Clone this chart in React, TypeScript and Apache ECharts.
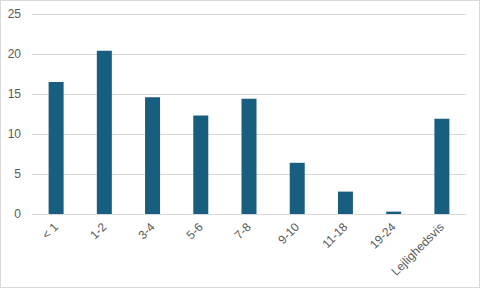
import React, { useEffect, useRef } from "react";
import * as echarts from "echarts";

const categories = ["< 1", "1-2", "3-4", "5-6", "7-8", "9-10", "11-18", "19-24", "Lejlighedsvis"];
const values = [16.5, 20.4, 14.6, 12.3, 14.4, 6.4, 2.8, 0.3, 11.9];
const yTicks = { min: 0, max: 25, interval: 5 };

export default function App() {
  const ref = useRef<HTMLDivElement>(null);
  useEffect(() => {
    document.body.style.margin = "0";
    const chart = echarts.init(ref.current!, null, { renderer: "svg" });
    chart.setOption({
      animation: false,
      backgroundColor: "#ffffff",
      textStyle: { fontFamily: "Liberation Sans, Arial, sans-serif" },
      grid: { left: 32, right: 14, top: 14, bottom: 74 },
      xAxis: {
        type: "category",
        data: categories,
        axisLine: { show: true, lineStyle: { color: "#d9d9d9", width: 1 } },
        axisTick: { show: false },
        axisLabel: {
          rotate: 45,
          color: "#595959",
          fontSize: 12,
          margin: 11,
          interval: 0,
        },
      },
      yAxis: {
        type: "value",
        min: yTicks.min,
        max: yTicks.max,
        interval: yTicks.interval,
        axisLine: { show: false },
        axisTick: { show: false },
        axisLabel: { color: "#595959", fontSize: 12, margin: 11 },
        splitLine: { lineStyle: { color: "#d9d9d9", width: 1 } },
      },
      series: [
        {
          type: "bar",
          data: values,
          barWidth: 15,
          itemStyle: { color: "#175e81" },
        },
      ],
    });
    return () => chart.dispose();
  }, []);
  return (
    <div style={{ position: "relative", width: 480, height: 288 }}>
      <div ref={ref} style={{ width: 480, height: 288 }} />
      <div
        style={{
          position: "absolute",
          left: 0,
          top: 0,
          width: 480,
          height: 288,
          boxSizing: "border-box",
          border: "1px solid #d9d9d9",
          pointerEvents: "none",
        }}
      />
    </div>
  );
}
